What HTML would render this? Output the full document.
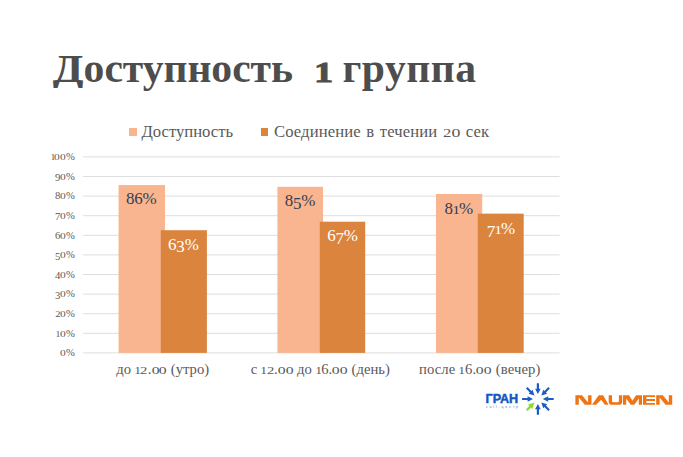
<!DOCTYPE html>
<html lang="ru">
<head>
<meta charset="utf-8">
<title>Доступность 1 группа</title>
<style>
html,body{margin:0;padding:0;}
body{width:683px;height:457px;position:relative;overflow:hidden;background:#fff;
  font-family:"Liberation Serif",serif;color:#595959;}
.abs{position:absolute;white-space:nowrap;line-height:1;}
/* old-style figure emulation */
.x{display:inline-block;font-size:.74em;line-height:1;}
.x0{transform:scaleX(1.45);margin:0 .11em;}
.x1{transform:scaleX(1.25);margin:0 .02em;}
.x2{transform:scaleX(1.35);margin:0 .085em;}
.g{position:relative;top:.15em;}
#title{left:55px;top:49px;font-size:40px;font-weight:bold;color:#4d4d4d;letter-spacing:0px;
  transform-origin:0 0;transform:scaleX(1.04);}
#title .w1{letter-spacing:-0.02px;}
#title .w3{letter-spacing:.5px;}
#title .D{display:inline-block;transform:scaleX(1.075);transform-origin:100% 50%;}
#dmask{position:absolute;left:48px;top:87.8px;width:35.5px;height:8px;background:#fff;}
#title .one{margin-left:11.6px;-webkit-text-stroke:.9px #4d4d4d;}
.grid{position:absolute;left:83.1px;width:476.5px;height:1.3px;background:#e6e6e6;}
.ylab{position:absolute;left:30px;width:44.8px;text-align:right;font-size:10.67px;line-height:12px;color:#595959;white-space:nowrap;}
.bar{position:absolute;}
.lt{background:#f9b590;}
.dk{background:#db843d;}
.dl{position:absolute;font-size:17px;line-height:1;white-space:nowrap;text-align:center;width:60px;letter-spacing:-.2px;}
.dl.k{color:#333f50;}
.dl.w{color:#fff;}
.cat{position:absolute;font-size:14.67px;line-height:1;white-space:nowrap;color:#595959;text-align:center;width:200px;top:362.2px;}
.leg{position:absolute;font-size:16.67px;line-height:1;white-space:nowrap;color:#595959;top:124.2px;}
#gran{left:485.5px;top:393.4px;font-family:"Liberation Sans",sans-serif;font-weight:bold;font-size:12.6px;color:#1454c4;letter-spacing:0px;-webkit-text-stroke:.45px #1454c4;}
#gransub{left:486px;top:405.9px;font-family:"Liberation Sans",sans-serif;font-size:3.4px;color:#3f74d4;letter-spacing:1.85px;}
.sq{position:absolute;width:7.4px;height:7.4px;top:128.2px;}
</style>
</head>
<body>
<div id="title" class="abs"><span class="w1"><span class="D">Д</span>оступность</span><span class="sp1"> </span><span class="one"><span class="x x1">1</span></span><span class="sp2"> </span><span class="w3">группа</span></div>

<div id="dmask"></div>

<!-- legend -->
<div class="sq lt" style="left:129.3px"></div>
<div class="leg" style="left:141.4px">Доступность</div>
<div class="sq dk" style="left:261.1px"></div>
<div class="leg" style="left:274px;letter-spacing:.1px;word-spacing:1.3px">Соединение в течении <span class="x x2">2</span><span class="x x0">0</span> сек</div>

<!-- gridlines + bars -->
<svg class="abs" style="left:0;top:0" width="683" height="457" viewBox="0 0 683 457">
<rect x="83.1" y="156.40" width="476.5" height="1" fill="#dedede"/>
<rect x="83.1" y="176.00" width="476.5" height="1" fill="#dedede"/>
<rect x="83.1" y="195.60" width="476.5" height="1" fill="#dedede"/>
<rect x="83.1" y="215.20" width="476.5" height="1" fill="#dedede"/>
<rect x="83.1" y="234.80" width="476.5" height="1" fill="#dedede"/>
<rect x="83.1" y="254.40" width="476.5" height="1" fill="#dedede"/>
<rect x="83.1" y="274.00" width="476.5" height="1" fill="#dedede"/>
<rect x="83.1" y="293.60" width="476.5" height="1" fill="#dedede"/>
<rect x="83.1" y="313.20" width="476.5" height="1" fill="#dedede"/>
<rect x="83.1" y="332.80" width="476.5" height="1" fill="#dedede"/>
<rect x="83.1" y="352.40" width="476.5" height="1" fill="#dedede"/>
<rect x="118.55" y="185.05" width="46.45" height="167.85" fill="#f9b590"/>
<rect x="160.8" y="230.2" width="46.1" height="122.70" fill="#db843d"/>
<rect x="277.4" y="186.8" width="45.6" height="166.10" fill="#f9b590"/>
<rect x="319.8" y="221.7" width="45.4" height="131.20" fill="#db843d"/>
<rect x="435.95" y="194.0" width="46.25" height="158.90" fill="#f9b590"/>
<rect x="477.8" y="213.65" width="45.9" height="139.25" fill="#db843d"/>
</svg>

<!-- data labels -->
<div class="dl k" style="left:111.2px;top:190px">86%</div>
<div class="dl w" style="left:153.3px;top:235.6px">6<span class="g">3</span>%</div>
<div class="dl k" style="left:270px;top:192.4px">8<span class="g">5</span>%</div>
<div class="dl w" style="left:312.5px;top:227.4px">6<span class="g">7</span>%</div>
<div class="dl k" style="left:428.6px;top:200px;letter-spacing:-.5px">8<span class="x x1">1</span>%</div>
<div class="dl w" style="left:470.7px;top:220px;letter-spacing:-.5px"><span class="g">7</span><span class="x x1">1</span>%</div>

<!-- category labels -->
<div class="cat" style="left:62.7px">до <span class="x x1">1</span><span class="x x2">2</span>.<span class="x x0">0</span><span class="x x0">0</span> (утро)</div>
<div class="cat" style="left:220.3px">с <span class="x x1">1</span><span class="x x2">2</span>.<span class="x x0">0</span><span class="x x0">0</span> до <span class="x x1">1</span>6.<span class="x x0">0</span><span class="x x0">0</span> (день)</div>
<div class="cat" style="left:379.75px;letter-spacing:.1px">после <span class="x x1">1</span>6.<span class="x x0">0</span><span class="x x0">0</span> (вечер)</div>

<!-- y axis labels -->
<div class="ylab" style="top:150.10px"><span class="x x1">1</span><span class="x x0">0</span><span class="x x0">0</span>%</div>
<div class="ylab" style="top:169.70px"><span class="g">9</span><span class="x x0">0</span>%</div>
<div class="ylab" style="top:189.30px">8<span class="x x0">0</span>%</div>
<div class="ylab" style="top:208.90px"><span class="g">7</span><span class="x x0">0</span>%</div>
<div class="ylab" style="top:228.50px">6<span class="x x0">0</span>%</div>
<div class="ylab" style="top:248.10px"><span class="g">5</span><span class="x x0">0</span>%</div>
<div class="ylab" style="top:267.70px"><span class="g">4</span><span class="x x0">0</span>%</div>
<div class="ylab" style="top:287.30px"><span class="g">3</span><span class="x x0">0</span>%</div>
<div class="ylab" style="top:306.90px"><span class="x x2">2</span><span class="x x0">0</span>%</div>
<div class="ylab" style="top:326.50px"><span class="x x1">1</span><span class="x x0">0</span>%</div>
<div class="ylab" style="top:346.10px"><span class="x x0">0</span>%</div>

<svg class="abs" style="left:0;top:0" width="683" height="457" viewBox="0 0 683 457">
<path fill="#1c5cc3" transform="translate(537.9,399.0) rotate(0)" d="M-15.80,-1.10 L-10.30,-1.10 L-10.30,-2.80 L-4.90,0 L-10.30,2.80 L-10.30,1.10 L-15.80,1.10 Z"/>
<path fill="#1c5cc3" transform="translate(537.9,399.0) rotate(45)" d="M-15.80,-1.10 L-10.30,-1.10 L-10.30,-2.80 L-4.90,0 L-10.30,2.80 L-10.30,1.10 L-15.80,1.10 Z"/>
<path fill="#1c5cc3" transform="translate(537.9,399.0) rotate(90)" d="M-15.80,-1.10 L-10.30,-1.10 L-10.30,-2.80 L-4.90,0 L-10.30,2.80 L-10.30,1.10 L-15.80,1.10 Z"/>
<path fill="#1c5cc3" transform="translate(537.9,399.0) rotate(135)" d="M-15.80,-1.10 L-10.30,-1.10 L-10.30,-2.80 L-4.90,0 L-10.30,2.80 L-10.30,1.10 L-15.80,1.10 Z"/>
<path fill="#1c5cc3" transform="translate(537.9,399.0) rotate(180)" d="M-15.80,-1.10 L-10.30,-1.10 L-10.30,-2.80 L-4.90,0 L-10.30,2.80 L-10.30,1.10 L-15.80,1.10 Z"/>
<path fill="#1c5cc3" transform="translate(537.9,399.0) rotate(225)" d="M-15.80,-1.10 L-10.30,-1.10 L-10.30,-2.80 L-4.90,0 L-10.30,2.80 L-10.30,1.10 L-15.80,1.10 Z"/>
<path fill="#1c5cc3" transform="translate(537.9,399.0) rotate(270)" d="M-15.80,-1.10 L-10.30,-1.10 L-10.30,-2.80 L-4.90,0 L-10.30,2.80 L-10.30,1.10 L-15.80,1.10 Z"/>
<path fill="#86e01c" transform="translate(537.9,399.0) rotate(315)" d="M-15.80,-1.10 L-11.10,-1.10 L-11.10,-2.94 L-4.90,0 L-11.10,2.94 L-11.10,1.10 L-15.80,1.10 Z"/>
<path fill="#ef7414" d="M575.4,404.8 V395.2 H582.00 L588.10,402.40 V395.2 H591.5 V404.8 H584.90 L578.80,397.60 V404.8 Z M592,404.8 L598.7,395.2 H603.1 L608.6,404.8 H604.9 L601.2,399.70 L596.1,404.8 Z M608.7,395.2 V401.40 Q608.7,404.8 612.1,404.8 H618.8 Q622.2,404.8 622.2,401.40 V395.2 H618.9 V401.10 Q618.9,402.30 617.7,402.30 H613.2 Q612,402.30 612,401.10 V395.2 Z M623,404.8 V395.2 H629.0 L632.5,400.70 L636.0,395.2 H642 V404.8 H638.8 V398.50 L634.3,404.8 H630.7 L626.2,398.50 V404.8 Z M643,395.2 H655 V397.10 H646.3 V399.05 H655 V400.95 H646.3 V402.90 H655 V404.8 H643 Z M656.2,404.8 V395.2 H662.80 L668.80,402.40 V395.2 H672.2 V404.8 H665.60 L659.60,397.60 V404.8 Z"/>
</svg>
<div class="abs" id="gran">ГРАН</div>
<div class="abs" id="gransub">call-центр</div>
</body>
</html>
